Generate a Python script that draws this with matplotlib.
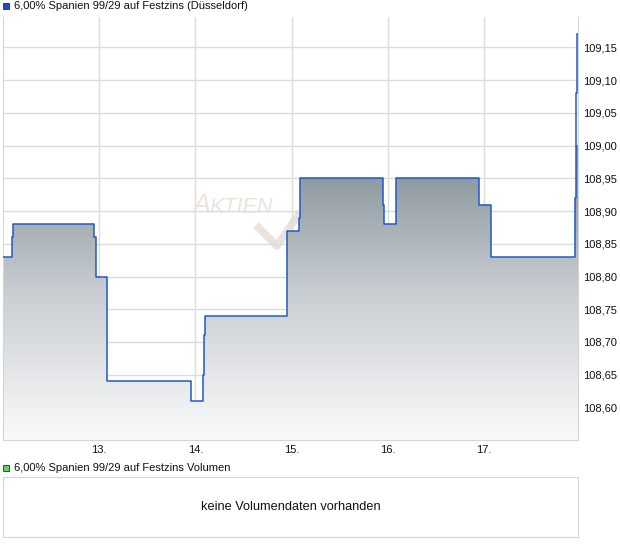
import numpy as np
import matplotlib.pyplot as plt
from matplotlib.colors import LinearSegmentedColormap
from matplotlib.patches import Polygon, Rectangle
from matplotlib.lines import Line2D

plt.rcParams['font.family'] = ['Liberation Sans', 'DejaVu Sans']

#%% data
title = "6,00% Spanien 99/29 auf Festzins (Düsseldorf)"
vol_title = "6,00% Spanien 99/29 auf Festzins Volumen"
no_vol = "keine Volumendaten vorhanden"

# trade times (day of month, fractional) and prices
times = [12.00, 12.09, 12.10, 12.95, 12.97, 13.08, 13.95, 14.08, 14.09, 14.10,
         14.95, 15.08, 15.09, 15.95, 15.96, 16.08, 16.09, 16.95, 17.07, 17.95,
         17.96, 17.97]
prices = [108.83, 108.86, 108.88, 108.86, 108.80, 108.64, 108.61, 108.65, 108.71, 108.74,
          108.87, 108.89, 108.95, 108.91, 108.88, 108.92, 108.95, 108.91, 108.83, 108.92,
          109.08, 109.17]
t_end = 17.977

day_ticks = [13, 14, 15, 16, 17]
day_labels = ["13.", "14.", "15.", "16.", "17."]
price_ticks = [108.60, 108.65, 108.70, 108.75, 108.80, 108.85, 108.90,
               108.95, 109.00, 109.05, 109.10, 109.15]

#%% figure
W, H = 620, 546
fig = plt.figure(figsize=(W / 100, H / 100), dpi=100)


def box(l, t, r, b):
    return [l / W, 1 - b / H, (r - l) / W, (b - t) / H]


def fx(x):
    return x / W


def fy(y):
    return 1 - y / H


ybot, ytop = 108.5502, 109.1965
ax = fig.add_axes(box(3, 17, 578, 440))
ax.set_xlim(12.0, t_end)
ax.set_ylim(ybot, ytop)

# watermark
wm = '#e9e3dc'
fig.text(fx(192), fy(213), "A", fontsize=19.5, style='italic', color=wm, zorder=0)
fig.text(fx(209), fy(213), "KTIEN", fontsize=15.5, style='italic', color=wm, zorder=0)
fig.add_artist(Line2D([fx(256), fx(277), fx(300)], [fy(225), fy(246), fy(212)],
                      color=wm, lw=5.5, solid_capstyle='butt', zorder=0))
ax.patch.set_alpha(0)

# grid
ax.set_xticks(day_ticks)
ax.set_xticklabels(day_labels)
ax.set_yticks(price_ticks)
ax.set_yticklabels(["{:.2f}".format(p).replace(".", ",") for p in price_ticks])
ax.grid(True, color='#dcdcdc', lw=1)
ax.set_axisbelow(True)
ax.yaxis.tick_right()
ax.tick_params(length=0, labelsize=8, colors='#111111')
ax.tick_params(axis='y', pad=4)
ax.tick_params(axis='x', pad=3.5)
for s in ['left', 'right', 'bottom']:
    ax.spines[s].set_color('#d5d5d5')
ax.spines['top'].set_visible(False)

# gradient fill under the step line
xs = np.array(times + [t_end])
ps = np.array(prices)
xp = np.repeat(xs, 2)[1:-1]
yp = np.repeat(ps, 2)
verts = [(xp[0], ybot)] + list(zip(xp, yp)) + [(xp[-1], ybot)]
clip = Polygon(verts, closed=True, facecolor='none', edgecolor='none')
ax.add_patch(clip)
cmap = LinearSegmentedColormap.from_list('g', ['#fafafa', '#c9ced2', '#7f8c93'])
grad = np.linspace(0, 1, 256).reshape(-1, 1)
im = ax.imshow(grad, extent=[12.0, t_end, ybot, 109.0], origin='lower',
               aspect='auto', cmap=cmap, zorder=1)
im.set_clip_path(clip)

ax.step(xs, list(prices) + [prices[-1]], where='post', color='#1f59c8', lw=1.1, zorder=3)

# legend squares and titles
fig.add_artist(Rectangle((fx(3), fy(9)), 6 / W, 6 / H, facecolor='#1f4fb4',
                         edgecolor='#333333', lw=0.6))
fig.text(fx(14), fy(6), title, fontsize=8, va='center', color='#111111')
fig.add_artist(Rectangle((fx(3), fy(471)), 6 / W, 6 / H, facecolor='#66cc66',
                         edgecolor='#333333', lw=0.6))
fig.text(fx(14), fy(468), vol_title, fontsize=8, va='center', color='#111111')

# volume panel
vax = fig.add_axes(box(3, 477, 578, 537))
vax.set_xticks([])
vax.set_yticks([])
for s in vax.spines.values():
    s.set_color('#d5d5d5')
vax.text(0.5, 0.5, no_vol, fontsize=9.2, ha='center', va='center',
         transform=vax.transAxes, color='#111111')

fig.savefig("out.png", dpi=100)
